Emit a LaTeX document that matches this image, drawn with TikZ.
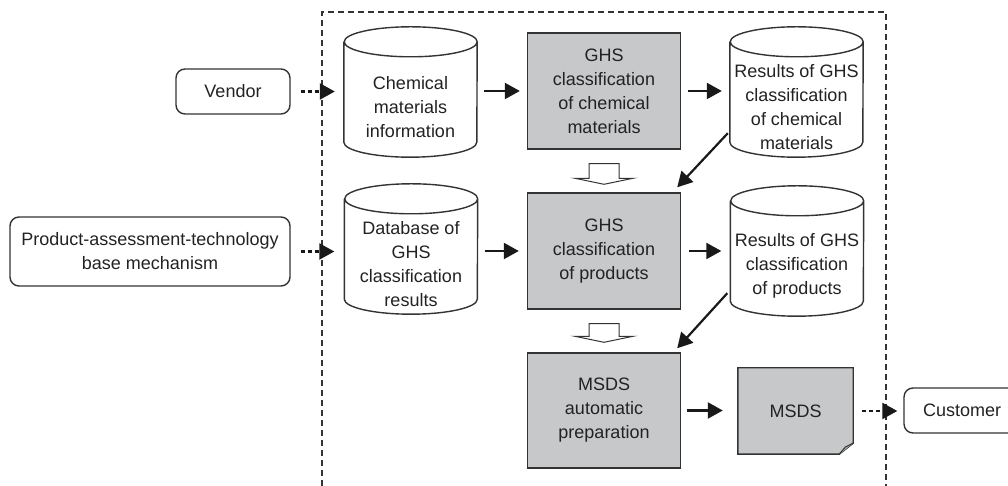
\documentclass[tikz,border=0pt]{standalone}
\usepackage{fontspec}
\setmainfont{Liberation Sans}
\usetikzlibrary{arrows.meta,calc,backgrounds}

\definecolor{boxgray}{RGB}{199,200,202}
\definecolor{linegray}{RGB}{51,51,51}
\definecolor{txtgray}{RGB}{34,34,34}

% outline of a data store round a body node
\newcommand{\cylout}[1]{%
	\draw[outline] ($(#1.north west)+(0,15)$) -- ($(#1.south west)+(0,15)$)
		arc[start angle=180, end angle=360, x radius=66.5pt, y radius=15pt]
		-- ($(#1.north east)+(0,15)$)
		arc[start angle=0, end angle=360, x radius=66.5pt, y radius=15pt];
}
% hollow block arrow from one step down to the next
\newcommand{\downblock}[3]{%
	\coordinate (bt) at ($(#1.south)+(0,-14)$);
	\coordinate (bp) at ($(#2.north)+(0,#3)$);
	\draw[hollow] ($(bt)+(-15,0)$) -- ($(bt)+(15,0)$) -- ($(bp)+(15,6)$) -- ($(bp)+(29,6)$)
		-- (bp) -- ($(bp)+(-29,6)$) -- ($(bp)+(-15,6)$) -- cycle;
}

\begin{document}
\begin{tikzpicture}[
		x=1pt, y=1pt,
		every node/.style={font=\fontsize{18}{24}\selectfont, text=txtgray, align=center, inner sep=2pt},
		outline/.style={draw=linegray, line width=1.4pt},
		procbox/.style={outline, fill=boxgray, minimum width=153pt, minimum height=116pt},
		cylbody/.style={minimum width=133pt, minimum height=100pt},
		docnode/.style={minimum width=115pt, minimum height=86pt},
		outside/.style={outline, rounded corners=9pt, minimum height=45pt},
		arr/.style={draw=black!90, line width=2.2pt, -{Triangle[length=15pt,width=16pt]}},
		dotarr/.style={arr, dash pattern=on 4pt off 3pt},
		hollow/.style={draw=linegray, line width=1pt, fill=white}
	]
	\useasboundingbox (0,0) rectangle (1008,486);

	% system border
	\draw[outline, dash pattern=on 6pt off 4pt] (322,0) -- (322,474) -- (886,474) -- (886,0);

	% processing steps
	\node[procbox] (ghsChem) at (604,395) {GHS\\classification\\of chemical\\materials};
	\node[procbox] (ghsProd) at (604,235) {GHS\\classification\\of products};
	\node[procbox, minimum height=115pt] (msdsPrep) at (604,75.5) {MSDS\\automatic\\preparation};

	% data stores
	\node[cylbody] (chemInfo) at (410.5,379) {Chemical\\materials\\information};
	\node[cylbody] (ghsDb) at (411,222) {Database of\\GHS\\classification\\results};
	\node[cylbody] (resChem) at (796.5,379) {Results of GHS\\classification\\of chemical\\materials};
	\node[cylbody] (resProd) at (797,220) {Results of GHS\\classification\\of products};
	\cylout{chemInfo}
	\cylout{ghsDb}
	\cylout{resChem}
	\cylout{resProd}

	% output document
	\node[docnode] (msdsDoc) at (795.5,75) {MSDS};
	\begin{scope}[on background layer]
		\draw[outline, fill=boxgray] (msdsDoc.north west) -- (msdsDoc.north east)
			-- ($(msdsDoc.south east)+(0,11)$) -- ($(msdsDoc.south east)+(-14,0)$)
			-- (msdsDoc.south west) -- cycle;
	\end{scope}
	\draw[outline, line width=1pt, fill=gray!55] ($(msdsDoc.south east)+(0,11)$)
		-- ($(msdsDoc.south east)+(-8,7)$) -- ($(msdsDoc.south east)+(-14,0)$);

	% outside parties
	\node[outside, minimum width=114pt] (vendor) at (233,394.5) {Vendor};
	\node[outside, minimum width=280pt, minimum height=69pt] (prodBase) at (150,234.5) {Product-assessment-technology\\base mechanism};
	\node[outside, minimum width=116pt] (customer) at (962,75.5) {Customer};

	% flows
	\draw[dotarr, shorten <=10pt, shorten >=9pt] (vendor.east) -- (vendor.east -| chemInfo.west);
	\draw[dotarr, shorten <=10pt, shorten >=10pt] (prodBase.east) -- (prodBase.east -| ghsDb.west);
	\draw[arr, shorten <=7pt, shorten >=7pt] (ghsChem.west -| chemInfo.east) -- (ghsChem.west);
	\draw[arr, shorten <=7pt, shorten >=8pt] (ghsChem.east) -- (ghsChem.east -| resChem.west);
	\draw[arr, shorten <=7pt, shorten >=8pt] (ghsProd.west -| ghsDb.east) -- (ghsProd.west);
	\draw[arr, shorten <=8pt, shorten >=9pt] (ghsProd.east) -- (ghsProd.east -| resProd.west);
	\draw[arr, shorten <=6pt, shorten >=15pt] (msdsPrep.east) -- (msdsPrep.east -| msdsDoc.west);
	\draw[dotarr, shorten <=9pt, shorten >=6pt] (msdsDoc.east) -- (msdsDoc.east -| customer.west);
	\draw[arr] ($(resChem.south west)+(-2,24)$) -- ($(ghsProd.north east)+(-4,5)$);
	\draw[arr] ($(resProd.south west)+(-3,23)$) -- ($(msdsPrep.north east)+(-4,4)$);
	\downblock{ghsChem}{ghsProd}{8}
	\downblock{ghsProd}{msdsPrep}{10}
\end{tikzpicture}
\end{document}
